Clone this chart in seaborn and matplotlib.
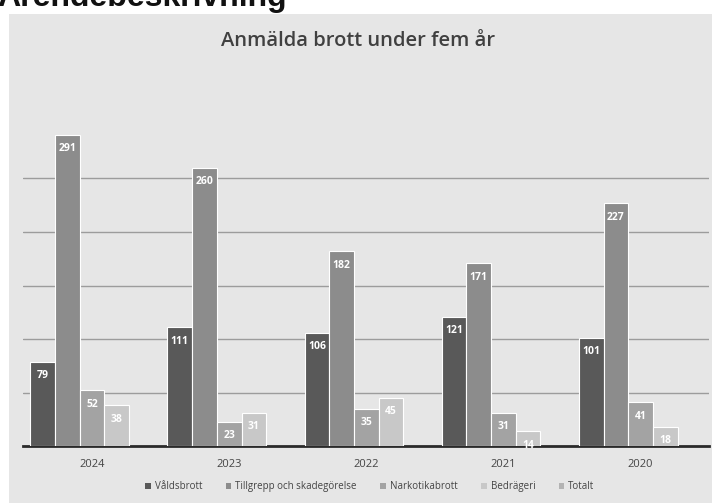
import matplotlib
matplotlib.use("Agg")
import matplotlib.pyplot as plt
from matplotlib.patches import Patch, Rectangle
import seaborn as sns
import pandas as pd
import numpy as np

years = ["2024", "2023", "2022", "2021", "2020"]
series = ["Våldsbrott", "Tillgrepp och skadegörelse", "Narkotikabrott", "Bedrägeri", "Totalt"]
valdsbrott = [79, 111, 106, 121, 101]
tillgrepp = [291, 260, 182, 171, 227]
narkotika = [52, 23, 35, 31, 41]
bedrageri = [38, 31, 45, 14, 18]
totalt = [np.nan, np.nan, np.nan, np.nan, np.nan]  # no bars shown for Totalt

colors = ["#595959", "#8c8c8c", "#a3a3a3", "#c8c8c8", "#b3b3b3"]

rows = []
for name, vals in zip(series, [valdsbrott, tillgrepp, narkotika, bedrageri, totalt]):
    for y, v in zip(years, vals):
        rows.append({"year": y, "serie": name, "antal": v})
df = pd.DataFrame(rows)

sns.set_style("white")
plt.rcParams["font.family"] = ["Open Sans", "DejaVu Sans"]

fig = plt.figure(figsize=(7.12, 5.03), dpi=100, facecolor="white")
# photographed page background
bg = Rectangle((0.012, 0.0), 0.988, 0.972, transform=fig.transFigure,
               facecolor="#e6e6e6", edgecolor="none", zorder=-10)
fig.patches.append(bg)
fig.text(-0.004, 0.988, "Ärendebeskrivning", fontsize=23, fontweight="bold",
         family="Liberation Sans", color="#111111", ha="left", va="baseline")

ax = fig.add_axes([0.033, 0.113, 0.963, 0.745])
ax.set_facecolor("none")

sns.barplot(data=df, x="year", y="antal", hue="serie", order=years, hue_order=series,
            palette=colors, width=0.9, edgecolor="white", linewidth=0.8,
            errorbar=None, legend=False, ax=ax, zorder=3)

for cont in ax.containers:
    labels = ["" if np.isnan(v) else f"{int(v)}" for v in cont.datavalues]
    ax.bar_label(cont, labels=labels, label_type="edge", padding=-14, color="white",
                 fontsize=7.5, fontweight="bold", family="Open Sans")

ax.set_ylim(0, 350)
ax.set_yticks([50, 100, 150, 200, 250])
ax.yaxis.grid(True, color="#9c9c9c", linewidth=1.0, zorder=0)
ax.set_axisbelow(True)
ax.tick_params(axis="y", left=False, labelleft=False)
ax.tick_params(axis="x", length=0, labelsize=8, labelcolor="#444444", pad=9)
ax.set_xlabel("")
ax.set_ylabel("")
for s in ["top", "right", "left"]:
    ax.spines[s].set_visible(False)
ax.spines["bottom"].set_color("#2a2a2a")
ax.spines["bottom"].set_linewidth(2.0)

fig.text(0.503, 0.918, "Anmälda brott under fem år", ha="center", va="center",
         fontsize=14.5, fontweight="semibold", color="#404040")

handles = [Patch(facecolor=c, edgecolor="none") for c in colors]
ax.legend(handles, series, loc="upper center", bbox_to_anchor=(0.505, -0.07), ncol=5,
          frameon=False, fontsize=7, labelcolor="#444444", handlelength=0.6,
          handleheight=0.6, handletextpad=0.4, columnspacing=2.4)

fig.savefig("out.png", dpi=100, facecolor=fig.get_facecolor())
